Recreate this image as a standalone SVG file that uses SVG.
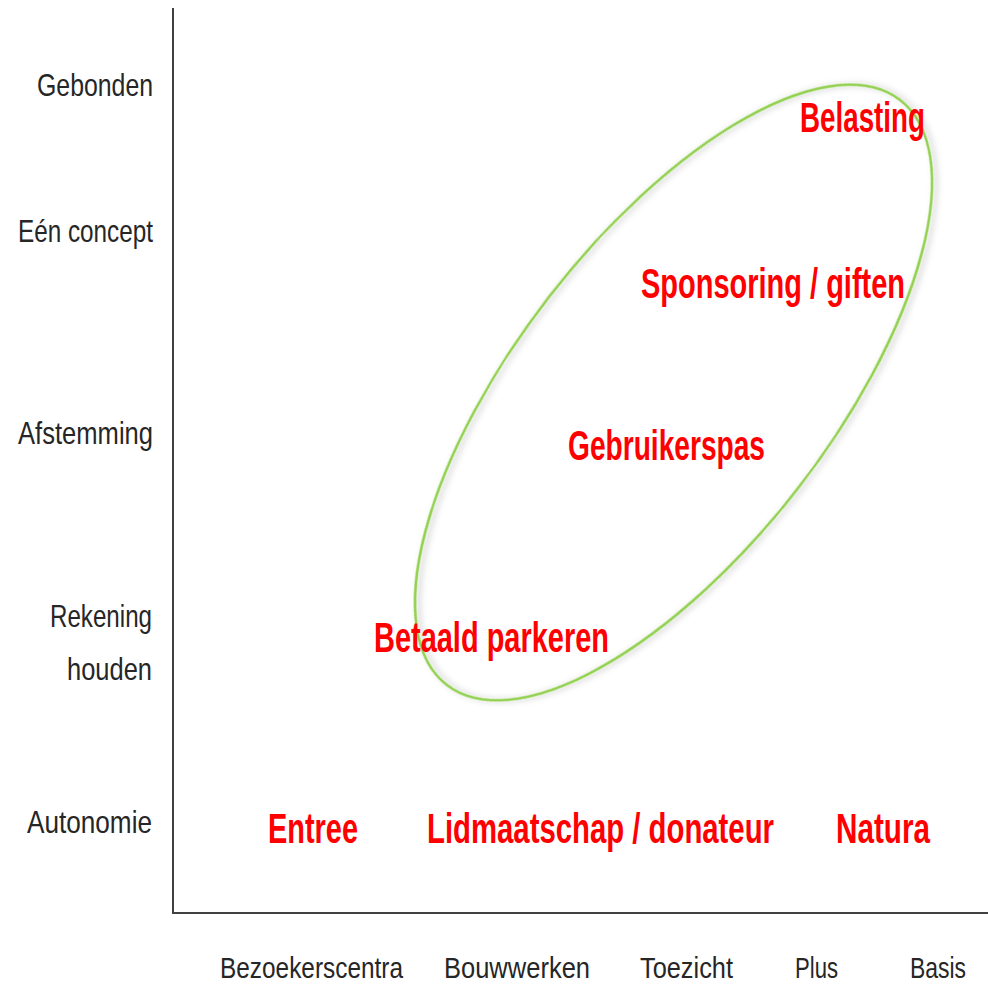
<svg xmlns="http://www.w3.org/2000/svg" width="988" height="986" viewBox="0 0 988 986">
<style>
.ax{font-family:"Liberation Sans",Arial,sans-serif;font-size:32px;fill:#262626}
.xl{font-size:30px}
.lab{font-family:"Liberation Sans",Arial,sans-serif;font-size:42px;font-weight:bold;fill:#FF0000}
</style>
<defs>
<filter id="sh" x="-20%" y="-20%" width="140%" height="140%">
<feDropShadow dx="2" dy="3" stdDeviation="3" flood-color="#000" flood-opacity="0.25"/>
</filter>
</defs>
<rect width="988" height="986" fill="#fff"/>
<g id="axes" stroke="#404040" stroke-width="2" fill="none">
<line x1="173" y1="8" x2="173" y2="913"/>
<line x1="172" y1="913" x2="988" y2="913"/>
</g>
<g id="ellipse">
<ellipse cx="673.5" cy="392.5" rx="370" ry="157" transform="rotate(-52.2 673.5 392.5)" fill="none" stroke="#92D050" stroke-width="2.5" filter="url(#sh)"/>
</g>
<g id="ylabels">
<text class="ax" x="37" y="96" textLength="116" lengthAdjust="spacingAndGlyphs">Gebonden</text>
<text class="ax" x="18" y="242" textLength="135" lengthAdjust="spacingAndGlyphs">Eén concept</text>
<text class="ax" x="18" y="444" textLength="135" lengthAdjust="spacingAndGlyphs">Afstemming</text>
<text class="ax" x="50" y="627" textLength="102" lengthAdjust="spacingAndGlyphs">Rekening</text>
<text class="ax" x="67" y="680" textLength="85" lengthAdjust="spacingAndGlyphs">houden</text>
<text class="ax" x="27" y="833" textLength="125" lengthAdjust="spacingAndGlyphs">Autonomie</text>
</g>
<g id="xlabels">
<text class="ax xl" x="220" y="978" textLength="183" lengthAdjust="spacingAndGlyphs">Bezoekerscentra</text>
<text class="ax xl" x="444" y="978" textLength="146" lengthAdjust="spacingAndGlyphs">Bouwwerken</text>
<text class="ax xl" x="640" y="978" textLength="93" lengthAdjust="spacingAndGlyphs">Toezicht</text>
<text class="ax xl" x="795" y="978" textLength="43" lengthAdjust="spacingAndGlyphs">Plus</text>
<text class="ax xl" x="910" y="978" textLength="56" lengthAdjust="spacingAndGlyphs">Basis</text>
</g>
<g id="items">
<text id="belasting" class="lab" x="800" y="132" textLength="125" lengthAdjust="spacingAndGlyphs">Belasting</text>
<text id="sponsoring" class="lab" x="641" y="298" textLength="264" lengthAdjust="spacingAndGlyphs">Sponsoring / giften</text>
<text id="gebruikerspas" class="lab" x="568" y="460" textLength="197" lengthAdjust="spacingAndGlyphs">Gebruikerspas</text>
<text id="parkeren" class="lab" x="374" y="652" textLength="235" lengthAdjust="spacingAndGlyphs">Betaald parkeren</text>
<text id="entree" class="lab" x="268" y="843" textLength="90" lengthAdjust="spacingAndGlyphs">Entree</text>
<text id="lidmaatschap" class="lab" x="427" y="843" textLength="347" lengthAdjust="spacingAndGlyphs">Lidmaatschap / donateur</text>
<text id="natura" class="lab" x="836" y="843" textLength="94" lengthAdjust="spacingAndGlyphs">Natura</text>
</g>
</svg>
